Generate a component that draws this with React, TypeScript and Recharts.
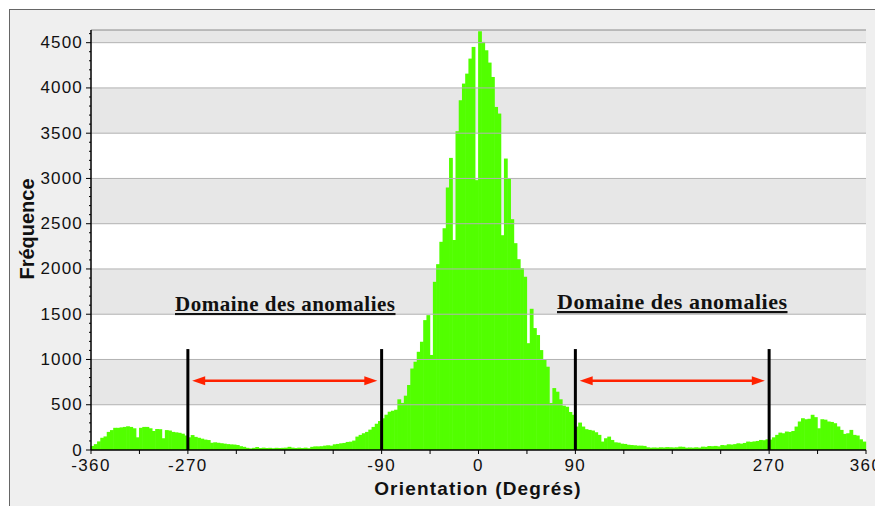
import React from 'react';
import { BarChart, Bar, XAxis, YAxis, CartesianGrid, ReferenceLine, ReferenceArea } from 'recharts';

// Histogramme des orientations, classes de 3° entre -360 et 360
const BIN_START = -360;
const BIN_WIDTH = 3;

// -360 .. -90
const westTail = [
  45, 65, 95, 135, 150, 200, 220, 245, 245, 250,
  255, 262, 255, 240, 140, 245, 255, 255, 240, 210,
  232, 230, 130, 220, 215, 200, 195, 190, 180, 160,
  140, 165, 145, 135, 125, 115, 110, 80, 85, 80,
  75, 70, 65, 62, 60, 55, 42, 35, 24, 18,
  24, 33, 22, 26, 22, 24, 20, 24, 22, 24,
  26, 35, 26, 22, 26, 22, 26, 20, 35, 40,
  40, 42, 48, 52, 48, 63, 67, 74, 78, 89,
  92, 104, 148, 167, 185, 200, 225, 255, 290, 320,
];

// -90 .. 90
const core = [
  350, 390, 423, 434, 445, 560, 520, 600, 718, 900,
  975, 1085, 1196, 1435, 1490, 1050, 1858, 2053, 2300, 2450,
  2900, 3227, 2320, 3522, 3864, 4048, 4158, 4324, 4453, 2981,
  4626, 4508, 4416, 4280, 4121, 3790, 3717, 2373, 3220, 3003,
  2550, 2285, 2108, 2009, 1914, 1180, 1560, 1347, 1270, 1104,
  994, 920, 519, 684, 644, 560, 490, 478, 420, 389,
];

// 90 .. 360
const eastTail = [
  259, 303, 259, 230, 222, 215, 196, 167, 93, 130,
  148, 111, 85, 81, 70, 67, 58, 55, 52, 48,
  48, 45, 30, 26, 28, 26, 30, 28, 32, 30,
  28, 30, 37, 35, 26, 28, 26, 30, 26, 37,
  35, 44, 42, 45, 40, 55, 52, 63, 60, 65,
  74, 70, 78, 93, 90, 95, 100, 111, 108, 118,
  115, 140, 167, 192, 185, 204, 200, 210, 259, 315,
  351, 340, 345, 389, 363, 240, 340, 335, 315, 310,
  296, 260, 222, 178, 185, 222, 167, 160, 118, 93,
];

const xTicks = [-360, -315, -270, -225, -180, -135, -90, -45, 0, 45, 90, 135, 180, 225, 270, 315, 360];
const xLabels = [-360, -270, -90, 0, 90, 270, 360];
const yTicks = [0, 500, 1000, 1500, 2000, 2500, 3000, 3500, 4000, 4500];
const yMinorTicks = Array.from({ length: 47 }, (_, i) => i * 100);
const grayBands = [[500, 1000], [1500, 2000], [2500, 3000], [3500, 4000], [4500, 4640]];
const Y_MAX = 4640;

// limites du domaine des anomalies
const markers = [-270, -90, 90, 270];
const arrowSpans = [[-266, -94], [94, 266]];
const MARKER_TOP = 1115;
const ARROW_LEVEL = 765;

const counts = [...westTail, ...core, ...eastTail];
const data = counts.map((count, i) => ({ deg: BIN_START + BIN_WIDTH * (i + 0.5), count }));

const GREEN = '#52ff00';
const RED = '#ff2200';
const SANS = '"Liberation Sans", Arial, sans-serif';
const SERIF = '"Liberation Serif", "Times New Roman", serif';

const XTick = ({ x, y, payload }: any) => {
  if (!xLabels.includes(payload.value)) return <g />;
  return (
    <text x={x} y={y} dy={15} textAnchor="middle" fontSize={17} letterSpacing={1.4} fill="#111" fontFamily={SANS}>
      {payload.value}
    </text>
  );
};

const YTick = ({ x, y, payload }: any) => {
  if (!yTicks.includes(payload.value)) return <g />;
  // x est à 8px de l'axe (tickSize + tickMargin)
  return (
    <g>
      <line x1={x + 3} y1={y} x2={x + 6} y2={y} stroke="#000" />
      <text x={x} y={y} dy={5.5} textAnchor="end" fontSize={17} letterSpacing={1.2} fill="#111" fontFamily={SANS}>
        {payload.value}
      </text>
    </g>
  );
};

// barres légèrement élargies pour éviter les joints clairs entre classes
const HistBar = ({ x, y, width, height }: any) => (
  <rect x={x - 0.4} y={y} width={width + 0.8} height={Math.max(height, 0)} fill={GREEN} />
);

const DoubleArrow = (props: any) => {
  const { x1, y1, x2 } = props;
  const head = 13;
  const half = 4.5;
  return (
    <g>
      <line x1={x1 + head - 2} y1={y1} x2={x2 - head + 2} y2={y1} stroke={RED} strokeWidth={2.5} />
      <polygon points={`${x1},${y1} ${x1 + head},${y1 - half} ${x1 + head},${y1 + half}`} fill={RED} />
      <polygon points={`${x2},${y1} ${x2 - head},${y1 - half} ${x2 - head},${y1 + half}`} fill={RED} />
    </g>
  );
};

export default function App() {
  return (
    <div
      style={{
        position: 'relative',
        width: 873,
        height: 496,
        margin: '1px 0 0 1px',
        background: '#efefef',
        borderLeft: '1px solid #666',
        borderTop: '1px solid #666',
      }}
    >
      <BarChart
        width={873}
        height={496}
        data={data}
        margin={{ top: 20, right: 17, bottom: 26, left: 21 }}
        barCategoryGap={0}
        barGap={0}
      >
        <CartesianGrid horizontal={false} vertical={false} fill="#fff" />
        {grayBands.map(([a, b]) => (
          <ReferenceArea key={a} y1={a} y2={b} fill="#e7e7e7" fillOpacity={1} stroke="none" />
        ))}
        {yTicks.slice(1).map((v) => (
          <ReferenceLine key={v} y={v} stroke="#b2b2b2" strokeWidth={1} />
        ))}
        <ReferenceLine y={Y_MAX} stroke="#8a8a8a" strokeWidth={1} />
        <XAxis
          dataKey="deg"
          type="number"
          domain={[-360, 360]}
          ticks={xTicks}
          interval={0}
          tickSize={4}
          tickLine={{ stroke: '#000' }}
          axisLine={{ stroke: '#000', strokeWidth: 1.5 }}
          tick={<XTick />}
          height={30}
        />
        <YAxis
          type="number"
          domain={[0, Y_MAX]}
          ticks={yMinorTicks}
          interval={0}
          tickSize={2}
          tickMargin={6}
          tickLine={{ stroke: '#000' }}
          axisLine={{ stroke: '#000', strokeWidth: 1.5 }}
          tick={<YTick />}
          width={60}
          allowDataOverflow
        />
        <Bar dataKey="count" fill={GREEN} shape={HistBar} isAnimationActive={false} />
        {markers.map((m) => (
          <ReferenceLine
            key={m}
            segment={[{ x: m, y: 0 }, { x: m, y: MARKER_TOP }]}
            stroke="#000"
            strokeWidth={3}
          />
        ))}
        {arrowSpans.map(([a, b]) => (
          <ReferenceLine
            key={a}
            segment={[{ x: a, y: ARROW_LEVEL }, { x: b, y: ARROW_LEVEL }]}
            stroke={RED}
            shape={DoubleArrow}
          />
        ))}
      </BarChart>
      <svg width={873} height={496} style={{ position: 'absolute', left: 0, top: 0, pointerEvents: 'none' }}>
        <text
          x={24}
          y={219}
          transform="rotate(-90, 24, 219)"
          textAnchor="middle"
          fontSize={20}
          fontWeight="bold"
          fill="#111"
          fontFamily={SANS}
        >
          Fréquence
        </text>
        <text x={468} y={485} textAnchor="middle" fontSize={19} letterSpacing={1.2} fontWeight="bold" fill="#111" fontFamily={SANS}>
          Orientation (Degrés)
        </text>
        <text x={165} y={301} fontSize={21} letterSpacing={0.5} fontWeight="bold" fill="#111" fontFamily={SERIF} textDecoration="underline">
          Domaine des anomalies
        </text>
        <text x={547} y={299} fontSize={22} letterSpacing={0.5} fontWeight="bold" fill="#111" fontFamily={SERIF} textDecoration="underline">
          Domaine des anomalies
        </text>
      </svg>
    </div>
  );
}
